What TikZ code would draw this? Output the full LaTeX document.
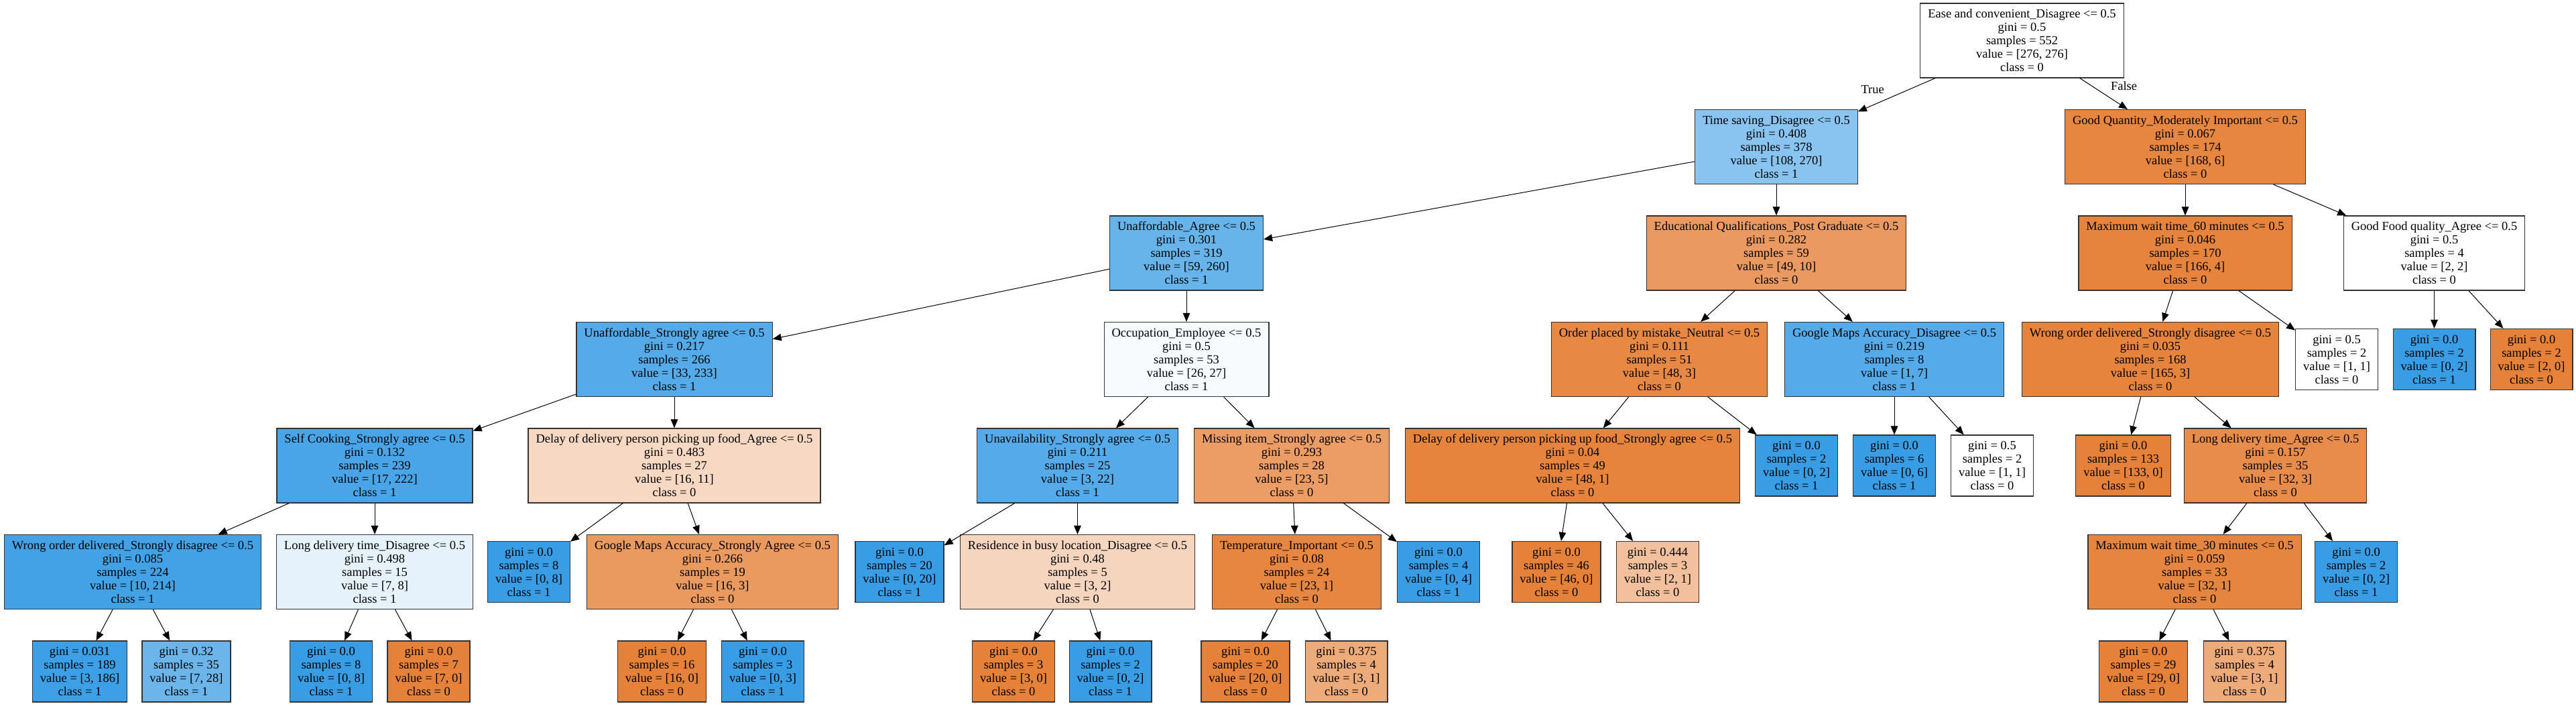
\documentclass[tikz,border=0pt]{standalone}
\usepackage{fontspec}
\setmainfont{Liberation Serif}
\usetikzlibrary{positioning,arrows.meta}
\definecolor{cls0}{HTML}{E58139}
\definecolor{cls1}{HTML}{399DE5}

\begin{document}
\begin{tikzpicture}[on grid,auto,>={Triangle[length=6.5pt,width=5.3pt]},
    every node/.style={font=\fontsize{9.25pt}{10pt}\selectfont},
    splitbox/.style={draw=black!80,line width=0.6pt,rectangle,align=center,
      inner xsep=5.75pt,inner ysep=0pt,minimum width=60.5pt,minimum height=55.5pt},
    leafbox/.style={splitbox,minimum height=45.5pt},
    every edge/.style={draw,line width=0.5pt}]

   \useasboundingbox (0,0) rectangle (1921.5pt,-526.5pt);

   % depth 0
   \node[splitbox,fill=white] (n_0) at (1508.25pt,-30.25pt) {Ease and convenient\_Disagree <= 0.5\\gini = 0.5\\samples = 552\\value = [276, 276]\\class = 0};

   % depth 1
   \node[splitbox,fill=cls1!60!white] (n_1) [below left=79.25pt and 183.25pt of n_0] {Time saving\_Disagree <= 0.5\\gini = 0.408\\samples = 378\\value = [108, 270]\\class = 1};
   \node[splitbox,fill=cls0!96!white] (n_36) [below right=79.25pt and 121.75pt of n_0] {Good Quantity\_Moderately Important <= 0.5\\gini = 0.067\\samples = 174\\value = [168, 6]\\class = 0};

   % depth 2
   \node[splitbox,fill=cls1!77!white] (n_2) [below left=79.25pt and 440pt of n_1] {Unaffordable\_Agree <= 0.5\\gini = 0.301\\samples = 319\\value = [59, 260]\\class = 1};
   \node[splitbox,fill=cls0!80!white] (n_27) [below=79.25pt of n_1] {Educational Qualifications\_Post Graduate <= 0.5\\gini = 0.282\\samples = 59\\value = [49, 10]\\class = 0};
   \node[splitbox,fill=cls0!98!white] (n_37) [below=79.25pt of n_36] {Maximum wait time\_60 minutes <= 0.5\\gini = 0.046\\samples = 170\\value = [166, 4]\\class = 0};
   \node[splitbox,fill=white] (n_46) [below right=79.25pt and 185.75pt of n_36] {Good Food quality\_Agree <= 0.5\\gini = 0.5\\samples = 4\\value = [2, 2]\\class = 0};

   % depth 3
   \node[splitbox,fill=cls1!86!white] (n_3) [below left=79.25pt and 382pt of n_2] {Unaffordable\_Strongly agree <= 0.5\\gini = 0.217\\samples = 266\\value = [33, 233]\\class = 1};
   \node[splitbox,fill=cls1!4!white] (n_16) [below=79.25pt of n_2] {Occupation\_Employee <= 0.5\\gini = 0.5\\samples = 53\\value = [26, 27]\\class = 1};
   \node[splitbox,fill=cls0!94!white] (n_28) [below left=79.25pt and 87.25pt of n_27] {Order placed by mistake\_Neutral <= 0.5\\gini = 0.111\\samples = 51\\value = [48, 3]\\class = 0};
   \node[splitbox,fill=cls1!86!white] (n_33) [below right=79.25pt and 88pt of n_27] {Google Maps Accuracy\_Disagree <= 0.5\\gini = 0.219\\samples = 8\\value = [1, 7]\\class = 1};
   \node[splitbox,fill=cls0!98!white] (n_38) [below left=79.25pt and 26pt of n_37] {Wrong order delivered\_Strongly disagree <= 0.5\\gini = 0.035\\samples = 168\\value = [165, 3]\\class = 0};
   \node[leafbox,fill=white] (n_45) [below right=79.25pt and 113pt of n_37] {gini = 0.5\\samples = 2\\value = [1, 1]\\class = 0};
   \node[leafbox,fill=cls1] (n_47) [below=79.25pt of n_46] {gini = 0.0\\samples = 2\\value = [0, 2]\\class = 1};
   \node[leafbox,fill=cls0] (n_48) [below right=79.25pt and 72.5pt of n_46] {gini = 0.0\\samples = 2\\value = [2, 0]\\class = 0};

   % depth 4
   \node[splitbox,fill=cls1!92!white] (n_4) [below left=79.25pt and 223.5pt of n_3] {Self Cooking\_Strongly agree <= 0.5\\gini = 0.132\\samples = 239\\value = [17, 222]\\class = 1};
   \node[splitbox,fill=cls0!31!white] (n_11) [below=79.25pt of n_3] {Delay of delivery person picking up food\_Agree <= 0.5\\gini = 0.483\\samples = 27\\value = [16, 11]\\class = 0};
   \node[splitbox,fill=cls1!86!white] (n_17) [below left=79.25pt and 81.25pt of n_16] {Unavailability\_Strongly agree <= 0.5\\gini = 0.211\\samples = 25\\value = [3, 22]\\class = 1};
   \node[splitbox,fill=cls0!78!white] (n_22) [below right=79.25pt and 78.5pt of n_16] {Missing item\_Strongly agree <= 0.5\\gini = 0.293\\samples = 28\\value = [23, 5]\\class = 0};
   \node[splitbox,fill=cls0!98!white] (n_29) [below left=79.25pt and 64.75pt of n_28] {Delay of delivery person picking up food\_Strongly agree <= 0.5\\gini = 0.04\\samples = 49\\value = [48, 1]\\class = 0};
   \node[leafbox,fill=cls1] (n_32) [below right=79.25pt and 102.25pt of n_28] {gini = 0.0\\samples = 2\\value = [0, 2]\\class = 1};
   \node[leafbox,fill=cls1] (n_34) [below=79.25pt of n_33] {gini = 0.0\\samples = 6\\value = [0, 6]\\class = 1};
   \node[leafbox,fill=white] (n_35) [below right=79.25pt and 73pt of n_33] {gini = 0.5\\samples = 2\\value = [1, 1]\\class = 0};
   \node[leafbox,fill=cls0] (n_39) [below left=79.25pt and 20.25pt of n_38] {gini = 0.0\\samples = 133\\value = [133, 0]\\class = 0};
   \node[splitbox,fill=cls0!91!white] (n_40) [below right=79.25pt and 93.25pt of n_38] {Long delivery time\_Agree <= 0.5\\gini = 0.157\\samples = 35\\value = [32, 3]\\class = 0};

   % depth 5
   \node[splitbox,fill=cls1!95!white] (n_5) [below left=79.25pt and 180.5pt of n_4] {Wrong order delivered\_Strongly disagree <= 0.5\\gini = 0.085\\samples = 224\\value = [10, 214]\\class = 1};
   \node[splitbox,fill=cls1!13!white] (n_8) [below=79.25pt of n_4] {Long delivery time\_Disagree <= 0.5\\gini = 0.498\\samples = 15\\value = [7, 8]\\class = 1};
   \node[leafbox,fill=cls1] (n_12) [below left=79.25pt and 108.5pt of n_11] {gini = 0.0\\samples = 8\\value = [0, 8]\\class = 1};
   \node[splitbox,fill=cls0!81!white] (n_13) [below right=79.25pt and 28.5pt of n_11] {Google Maps Accuracy\_Strongly Agree <= 0.5\\gini = 0.266\\samples = 19\\value = [16, 3]\\class = 0};
   \node[leafbox,fill=cls1] (n_18) [below left=79.25pt and 132.75pt of n_17] {gini = 0.0\\samples = 20\\value = [0, 20]\\class = 1};
   \node[splitbox,fill=cls0!33!white] (n_19) [below=79.25pt of n_17] {Residence in busy location\_Disagree <= 0.5\\gini = 0.48\\samples = 5\\value = [3, 2]\\class = 0};
   \node[splitbox,fill=cls0!96!white] (n_23) [below right=79.25pt and 3.75pt of n_22] {Temperature\_Important <= 0.5\\gini = 0.08\\samples = 24\\value = [23, 1]\\class = 0};
   \node[leafbox,fill=cls1] (n_26) [below right=79.25pt and 109.5pt of n_22] {gini = 0.0\\samples = 4\\value = [0, 4]\\class = 1};
   \node[leafbox,fill=cls0] (n_30) [below left=79.25pt and 12pt of n_29] {gini = 0.0\\samples = 46\\value = [46, 0]\\class = 0};
   \node[leafbox,fill=cls0!50!white] (n_31) [below right=79.25pt and 63.5pt of n_29] {gini = 0.444\\samples = 3\\value = [2, 1]\\class = 0};
   \node[splitbox,fill=cls0!97!white] (n_41) [below left=79.25pt and 60.25pt of n_40] {Maximum wait time\_30 minutes <= 0.5\\gini = 0.059\\samples = 33\\value = [32, 1]\\class = 0};
   \node[leafbox,fill=cls1] (n_44) [below right=79.25pt and 60.25pt of n_40] {gini = 0.0\\samples = 2\\value = [0, 2]\\class = 1};

   % depth 6
   \node[leafbox,fill=cls1!98!white] (n_6) [below left=74.25pt and 39.5pt of n_5] {gini = 0.031\\samples = 189\\value = [3, 186]\\class = 1};
   \node[leafbox,fill=cls1!75!white] (n_7) [below right=74.25pt and 40pt of n_5] {gini = 0.32\\samples = 35\\value = [7, 28]\\class = 1};
   \node[leafbox,fill=cls1] (n_9) [below left=74.25pt and 32.5pt of n_8] {gini = 0.0\\samples = 8\\value = [0, 8]\\class = 1};
   \node[leafbox,fill=cls0] (n_10) [below right=74.25pt and 40.25pt of n_8] {gini = 0.0\\samples = 7\\value = [7, 0]\\class = 0};
   \node[leafbox,fill=cls0] (n_14) [below left=74.25pt and 37.75pt of n_13] {gini = 0.0\\samples = 16\\value = [16, 0]\\class = 0};
   \node[leafbox,fill=cls1] (n_15) [below right=74.25pt and 37.5pt of n_13] {gini = 0.0\\samples = 3\\value = [0, 3]\\class = 1};
   \node[leafbox,fill=cls0] (n_20) [below left=74.25pt and 47.75pt of n_19] {gini = 0.0\\samples = 3\\value = [3, 0]\\class = 0};
   \node[leafbox,fill=cls1] (n_21) [below right=74.25pt and 24.5pt of n_19] {gini = 0.0\\samples = 2\\value = [0, 2]\\class = 1};
   \node[leafbox,fill=cls0] (n_24) [below left=74.25pt and 38.25pt of n_23] {gini = 0.0\\samples = 20\\value = [20, 0]\\class = 0};
   \node[leafbox,fill=cls0!67!white] (n_25) [below right=74.25pt and 37pt of n_23] {gini = 0.375\\samples = 4\\value = [3, 1]\\class = 0};
   \node[leafbox,fill=cls0] (n_42) [below left=74.25pt and 38.25pt of n_41] {gini = 0.0\\samples = 29\\value = [29, 0]\\class = 0};
   \node[leafbox,fill=cls0!67!white] (n_43) [below right=74.25pt and 37.25pt of n_41] {gini = 0.375\\samples = 4\\value = [3, 1]\\class = 0};

    \path[->]
    (n_0)  edge node[swap,pos=0.6] {True} (n_1)
           edge node[pos=0.55] {False} (n_36)
    (n_1)  edge (n_2) edge (n_27)
    (n_2)  edge (n_3) edge (n_16)
    (n_3)  edge (n_4) edge (n_11)
    (n_4)  edge (n_5) edge (n_8)
    (n_5)  edge (n_6) edge (n_7)
    (n_8)  edge (n_9) edge (n_10)
    (n_11) edge (n_12) edge (n_13)
    (n_13) edge (n_14) edge (n_15)
    (n_16) edge (n_17) edge (n_22)
    (n_17) edge (n_18) edge (n_19)
    (n_19) edge (n_20) edge (n_21)
    (n_22) edge (n_23) edge (n_26)
    (n_23) edge (n_24) edge (n_25)
    (n_27) edge (n_28) edge (n_33)
    (n_28) edge (n_29) edge (n_32)
    (n_29) edge (n_30) edge (n_31)
    (n_33) edge (n_34) edge (n_35)
    (n_36) edge (n_37) edge (n_46)
    (n_37) edge (n_38) edge (n_45)
    (n_38) edge (n_39) edge (n_40)
    (n_40) edge (n_41) edge (n_44)
    (n_41) edge (n_42) edge (n_43)
    (n_46) edge (n_47) edge (n_48);
\end{tikzpicture}
\end{document}
